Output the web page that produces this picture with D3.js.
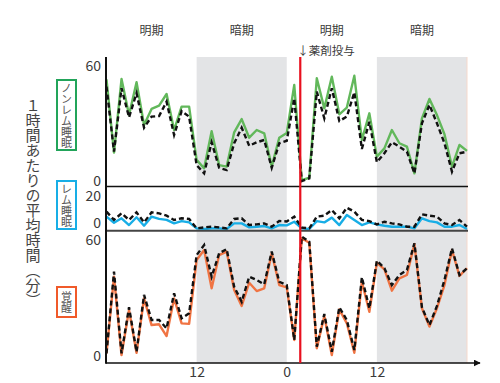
<!DOCTYPE html>
<html>
<head>
<meta charset="utf-8">
<script src="https://cdn.jsdelivr.net/npm/d3@7"></script>
<style>
  body { margin: 0; background: #fff; }
  text { font-family: "Noto Sans CJK JP", "Noto Sans", sans-serif; fill: #3a3a3a; }
</style>
</head>
<body>
<div id="chart"></div>
<script>
// hourly points, 0..48 h
const hours = d3.range(0, 49);
const drugHour = 25.8;

const periods = [
  { from: 0, to: 12, label: '明期', dark: false },
  { from: 12, to: 24, label: '暗期', dark: true },
  { from: 24, to: 36, label: '明期', dark: false },
  { from: 36, to: 48, label: '暗期', dark: true }
];
const xTicks = [12, 24, 36];
const xTickLabels = ['12', '0', '12'];

// ノンレム睡眠 (min / h)
const nremSolid = [53, 14.8, 53.2, 34.4, 51.5, 29.2, 37.6, 39.3, 45.4, 26.6, 38.8, 38.8,
  11, 6.6, 26, 8.3, 7.5, 25.4, 32.3, 22.6, 26.6, 24.9, 7.5, 22.6,
  25, 50.1, 0.5, 1.7, 53.6, 37.9, 54.4, 34.8, 38.3, 54.9, 21.4, 35.3,
  12.7, 17, 26.6, 19.7, 17.9, 4, 32.7, 42.8, 34.4, 24.4, 7.5, 18.8, 15.7];
const nremDashed = [49.2, 15.3, 48.4, 33.2, 45.8, 27.8, 33.6, 33.9, 41.4, 24, 36.5, 33.6,
  8.3, 4, 20.2, 6.9, 5.7, 19.7, 27.8, 18.4, 20.2, 21.4, 6.9, 19.7,
  21, 43.1, 0, 1.4, 46.6, 32.7, 48.4, 31.3, 33.6, 46.3, 16.7, 30.9,
  9.8, 14.5, 20.2, 17.9, 15.3, 4, 30.1, 39.7, 30.1, 19.7, 4.9, 14.5, 15.3];

// レム睡眠
const remSolid = [7.5, 3.8, 6.5, 2.4, 7.1, 2, 7.5, 6.1, 5.5, 3.4, 4.8, 4,
  0.4, 0, 0.4, 0.4, 0, 3.4, 3.4, 1, 1.4, 1.8, 0.4, 2.4,
  2.2, 4.4, 0.4, 0, 4.8, 4, 6.9, 2.4, 8.5, 5.5, 2.4, 4,
  2.8, 2, 1.4, 1.4, 1.4, 0.4, 6.5, 4.8, 4, 1.4, 1.4, 2.4, 0];
const remDashed = [10.5, 5.5, 9.5, 5.5, 10.1, 4, 10.1, 9.5, 8.1, 5.5, 6.5, 6.1,
  0.4, 1, 1.4, 1, 0.4, 6.1, 6.5, 2.4, 2.8, 3.4, 1.4, 4.8,
  4.6, 7.5, 0.8, 0.4, 7.5, 8.1, 11.5, 6.5, 12.9, 10.5, 5.5, 4.8,
  2.8, 4.4, 3.4, 2.8, 1.4, 1.4, 8.9, 8.1, 7.5, 3.4, 2.4, 5.5, 1.4];

// 覚醒
const wakeSolid = [1.4, 41, 0.5, 23.8, 1.7, 29.8, 16, 16.4, 10.3, 29.8, 16.9, 16.6,
  49.7, 54.8, 35, 52.2, 54, 34.1, 25.9, 37.9, 33.6, 35, 53.1, 36.7,
  35.5, 8.3, 60.9, 58.6, 4, 20.7, 0.5, 24.1, 16.9, 1.7, 38.4, 22.9,
  48.3, 44.8, 33.8, 40.2, 41.9, 57.9, 24.7, 15.2, 24.7, 36.7, 54.8, 41.4, 45.4];
const wakeDashed = [1.4, 43.6, 1.4, 25.2, 2.2, 31.6, 18.6, 18.6, 14.3, 32.4, 19.5, 22.1,
  52.2, 57.4, 41, 53.1, 55.3, 35.8, 28.1, 41, 39.3, 37.1, 54, 38.4,
  36.7, 8.3, 61.7, 59.1, 4.8, 21.7, 2.2, 25.2, 18.6, 3.1, 40.7, 24.7,
  49.3, 45.4, 36.7, 41.9, 44.5, 58.3, 25.2, 16, 25.9, 39.3, 55.7, 41.9, 45.4];

const width = 500;
const height = 383;
const plotTop = 57;
const plotBottom = 363;
const axisX = 106;
const tickFont = 14;

const panels = [
  { name: 'ノンレム睡眠', solid: nremSolid, dashed: nremDashed, color: '#62b85b', box: '#22a45a',
    domain: [0, 60], range: [181, 66], ticks: [0, 60], boxY: [80, 150], base: 186.5 },
  { name: 'レム睡眠', solid: remSolid, dashed: remDashed, color: '#18aee6', box: '#18aee6',
    domain: [0, 20], range: [229, 196], ticks: [0, 20], boxY: [181, 229], base: 230.7, zeroShift: -6 },
  { name: '覚醒', solid: wakeSolid, dashed: wakeDashed, color: '#f07443', box: '#f05a2a',
    domain: [0, 60], range: [356, 240], ticks: [0, 60], boxY: [287, 317], base: null }
];

const svg = d3.select('#chart')
  .append('svg')
  .attr('width', width)
  .attr('height', height);

const x = d3.scaleLinear()
  .domain([0, 48])
  .range([106.5, 467]);

// dark periods
svg.selectAll('.dark')
  .data(periods.filter((p) => p.dark))
  .enter()
  .append('rect')
  .attr('class', 'dark')
  .attr('x', (d) => x(d.from))
  .attr('y', plotTop)
  .attr('width', (d) => x(d.to) - x(d.from))
  .attr('height', plotBottom - plotTop)
  .style('fill', '#e3e4e6');

svg.append('line')
  .attr('x1', x(48)).attr('x2', x(48))
  .attr('y1', plotTop).attr('y2', plotBottom)
  .style('stroke', '#f6d9cc')
  .style('stroke-width', 1);

// period labels
svg.selectAll('.period')
  .data(periods)
  .enter()
  .append('text')
  .attr('class', 'period')
  .attr('x', (d) => x((d.from + d.to) / 2))
  .attr('y', 35)
  .attr('text-anchor', 'middle')
  .style('font-size', '12px')
  .text((d) => d.label);

panels.forEach((p) => {
  const y = d3.scaleLinear().domain(p.domain).range(p.range);

  const line = d3.line()
    .x((d, i) => x(hours[i]))
    .y((d) => y(d));

  svg.append('path')
    .attr('d', line(p.solid))
    .style('fill', 'none')
    .style('stroke', p.color)
    .style('stroke-width', 2.4)
    .style('stroke-linejoin', 'round');

  svg.append('path')
    .attr('d', line(p.dashed))
    .style('fill', 'none')
    .style('stroke', '#111')
    .style('stroke-width', 2.4)
    .style('stroke-dasharray', '5,3');

  const yAxis = svg.append('g')
    .attr('transform', `translate(${axisX - 4}, 0)`)
    .call(d3.axisLeft(y).tickValues(p.ticks).tickSize(0).tickPadding(1));
  yAxis.select('.domain').remove();
  yAxis.selectAll('text')
    .style('font-size', `${tickFont}px`)
    .style('font-family', '"Noto Sans CJK JP", sans-serif')
    .style('fill', '#3a3a3a')
    .attr('dy', (d) => (d === 0 && p.zeroShift) ? `${0.32 * tickFont + p.zeroShift}px` : '0.32em');

  if (p.base !== null) {
    svg.append('line')
      .attr('x1', axisX).attr('x2', 468)
      .attr('y1', p.base).attr('y2', p.base)
      .style('stroke', p.zeroShift ? '#444' : '#111')
      .style('stroke-width', p.zeroShift ? 2 : 1.5);
  }

  // legend box with vertical label
  svg.append('rect')
    .attr('x', 57)
    .attr('y', p.boxY[0])
    .attr('width', 19)
    .attr('height', p.boxY[1] - p.boxY[0])
    .style('fill', '#fff')
    .style('stroke', p.box)
    .style('stroke-width', 2);

  svg.append('text')
    .attr('x', 66.5)
    .attr('y', (p.boxY[0] + p.boxY[1]) / 2)
    .attr('text-anchor', 'middle')
    .style('writing-mode', 'vertical-rl')
    .style('font-size', '11px')
    .style('fill', '#555')
    .text(p.name);
});

// x axis
const xAxis = svg.append('g')
  .attr('transform', `translate(0, ${plotBottom})`)
  .call(d3.axisBottom(x).tickValues(xTicks).tickSize(0).tickPadding(4)
    .tickFormat((d, i) => xTickLabels[i]));
xAxis.select('.domain').remove();
xAxis.selectAll('text')
  .style('font-size', `${tickFont}px`)
  .style('font-family', '"Noto Sans CJK JP", sans-serif')
  .style('fill', '#3a3a3a');

svg.append('defs').append('marker')
  .attr('id', 'arrow')
  .attr('viewBox', '0 0 10 10')
  .attr('refX', 9).attr('refY', 5)
  .attr('markerWidth', 7).attr('markerHeight', 7)
  .attr('markerUnits', 'userSpaceOnUse')
  .attr('orient', 'auto')
  .append('path')
  .attr('d', 'M0,0L10,5L0,10Z')
  .style('fill', '#111');

svg.append('line')
  .attr('x1', axisX).attr('x2', 480)
  .attr('y1', plotBottom).attr('y2', plotBottom)
  .style('stroke', '#111')
  .style('stroke-width', 1.5)
  .attr('marker-end', 'url(#arrow)');

svg.append('line')
  .attr('x1', axisX).attr('x2', axisX)
  .attr('y1', plotTop).attr('y2', plotBottom + 0.75)
  .style('stroke', '#111')
  .style('stroke-width', 2);

// drug administration
svg.append('line')
  .attr('x1', x(drugHour)).attr('x2', x(drugHour))
  .attr('y1', plotTop).attr('y2', plotBottom)
  .style('stroke', '#e8101e')
  .style('stroke-width', 2.2);

svg.append('text')
  .attr('x', x(drugHour) - 3)
  .attr('y', 55)
  .style('font-size', '11.5px')
  .text('↓薬剤投与');

// y title
svg.append('text')
  .attr('x', 33)
  .attr('y', 203)
  .attr('text-anchor', 'middle')
  .style('writing-mode', 'vertical-rl')
  .style('font-size', '15px')
  .style('fill', '#444')
  .text('１時間あたりの平均時間（分）');
</script>
</body>
</html>
